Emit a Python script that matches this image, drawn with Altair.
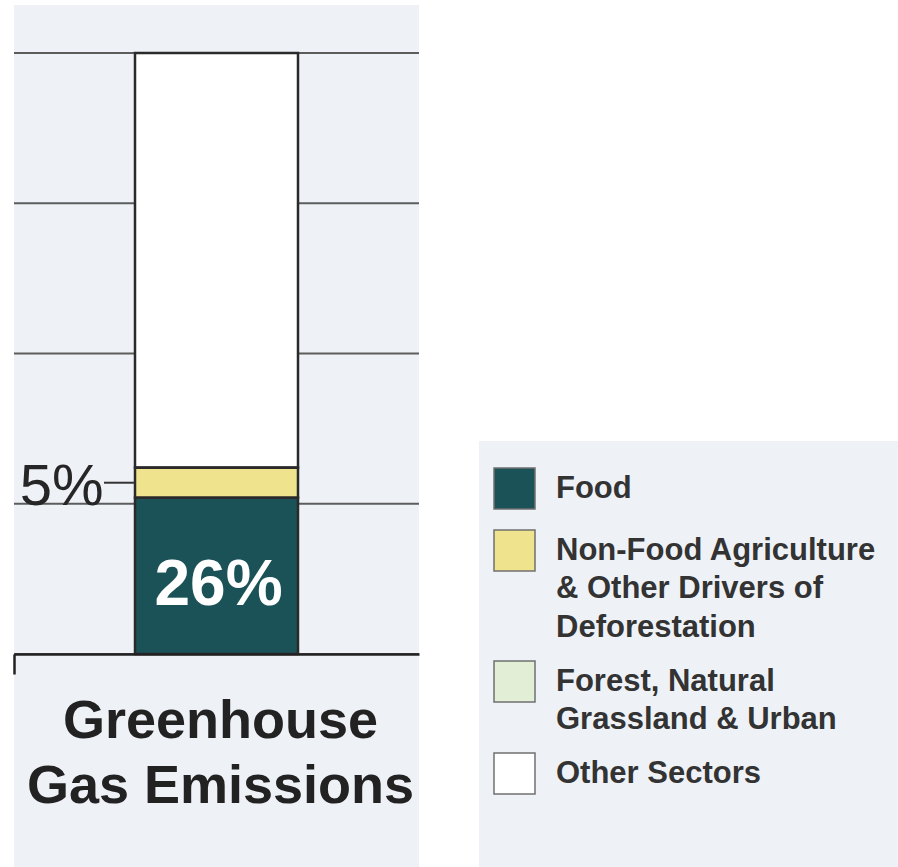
import json
import altair as alt
import pandas as pd

# ---------------- data ----------------
bar_label = "Greenhouse Gas Emissions"
title_lines = ["Greenhouse", "Gas Emissions"]
categories = [
    "Food",
    "Non-Food Agriculture & Other Drivers of Deforestation",
    "Forest, Natural Grassland & Urban",
    "Other Sectors",
]
legend_lines = [
    ["Food"],
    ["Non-Food Agriculture", "& Other Drivers of", "Deforestation"],
    ["Forest, Natural", "Grassland & Urban"],
    ["Other Sectors"],
]
shares = [26, 5, 0, 69]
colors = ["#1b5257", "#efe38d", "#e3eed6", "#ffffff"]
grid_values = [0, 25, 50, 75, 100]

FONT = "Liberation Sans"
PANEL = "#eef2f7"

df = pd.DataFrame({
    "metric": [bar_label] * len(categories),
    "category": categories,
    "share": shares,
    "order": list(range(len(categories))),
})
grid_df = pd.DataFrame({"tick": grid_values})
one = pd.DataFrame({"k": [0]})

yscale = alt.Scale(domain=[0, 100], nice=False, zero=True)
xscale = alt.Scale(paddingInner=0, paddingOuter=0)

x_axis = alt.Axis(
    labels=False, ticks=True, tickSize=20, tickWidth=2.5, tickColor="#222222",
    bandPosition=0, domain=True, domainColor="#222222", domainWidth=2.5,
    grid=False, title=title_lines, titleFont=FONT, titleFontSize=54,
    titleFontWeight="bold", titleColor="#222222", titleLineHeight=65,
    titlePadding=19, titleX=206, zindex=1,
)
x_enc = alt.X("metric:N", scale=xscale, axis=x_axis)

label_expr = " : ".join(
    f"datum.label == {json.dumps(c)} ? {json.dumps(lines)}"
    for c, lines in zip(categories, legend_lines)
) + " : datum.label"

# ---------------- decoration panels ----------------
panel_left = alt.Chart(one).mark_rect(color=PANEL).encode(
    x=alt.value(0), x2=alt.value(405), y=alt.value(-48), y2=alt.value(814)
)
panel_legend = alt.Chart(one).mark_rect(color=PANEL).encode(
    x=alt.value(465), x2=alt.value(884), y=alt.value(388), y2=alt.value(814)
)

grid = alt.Chart(grid_df).mark_rule(color="#5c5c5c", strokeWidth=2.2).encode(
    y=alt.Y("tick:Q", scale=yscale, axis=None)
)

base = alt.Chart(df)

bars = base.mark_bar(size=163, strokeWidth=0).encode(
    x=x_enc,
    y=alt.Y("share:Q", stack="zero", scale=yscale, axis=None),
    color=alt.Color(
        "category:N",
        scale=alt.Scale(domain=categories, range=colors),
        legend=alt.Legend(
            orient="none", legendX=479, legendY=414, title=None, padding=0,
            symbolType="square", symbolSize=1681, symbolStrokeColor="#707070",
            symbolStrokeWidth=1.5, symbolOpacity=1,
            labelFont=FONT, labelFontSize=31, labelFontWeight="bold",
            labelColor="#333333", labelOffset=20, labelLimit=600,
            labelBaseline="middle", rowPadding=15, labelExpr=label_expr,
        ),
    ),
    order=alt.Order("order:Q"),
)

outline = base.mark_bar(size=163, fillOpacity=0, stroke="#2a2a2a", strokeWidth=2.5).encode(
    x=x_enc,
    y=alt.Y("share:Q", stack="zero", scale=yscale, axis=None),
    detail="category:N",
    order=alt.Order("order:Q"),
)

stacked = base.transform_stack(
    stack="share", as_=["y0", "y1"], groupby=["metric"],
    sort=[alt.SortField("order", order="ascending")],
).transform_calculate(
    mid="(datum.y0 + datum.y1) / 2", label="datum.share + '%'"
)

inner_label = stacked.transform_filter(
    alt.datum.category == categories[0]
).mark_text(
    font=FONT, fontSize=64, fontWeight="bold", color="#ffffff",
    baseline="middle", dy=10, dx=2,
).encode(
    x=x_enc,
    y=alt.Y("mid:Q", scale=yscale, axis=None),
    text="label:N",
)

side = stacked.transform_filter(alt.datum.category == categories[1])
side_label = side.mark_text(
    font=FONT, fontSize=58, color="#262626", align="right",
    baseline="middle", dx=-113, dy=5,
).encode(
    x=x_enc,
    y=alt.Y("mid:Q", scale=yscale, axis=None),
    text="label:N",
)
side_rule = side.mark_rule(color="#333333", strokeWidth=2).encode(
    x=alt.value(90), x2=alt.value(121),
    y=alt.Y("mid:Q", scale=yscale, axis=None),
)

chart = alt.layer(
    panel_left, panel_legend, grid, bars, outline, inner_label, side_label, side_rule
).properties(
    width=405, height=601,
    padding={"left": 14, "top": 53, "right": 479, "bottom": 213},
    autosize="none",
).configure(
    background="#ffffff",
    view=alt.ViewConfig(strokeWidth=0),
    style={"guide-label": {"lineHeight": 38.5}},
)

chart.save("out.html", embed_options={"renderer": "svg", "actions": False})
